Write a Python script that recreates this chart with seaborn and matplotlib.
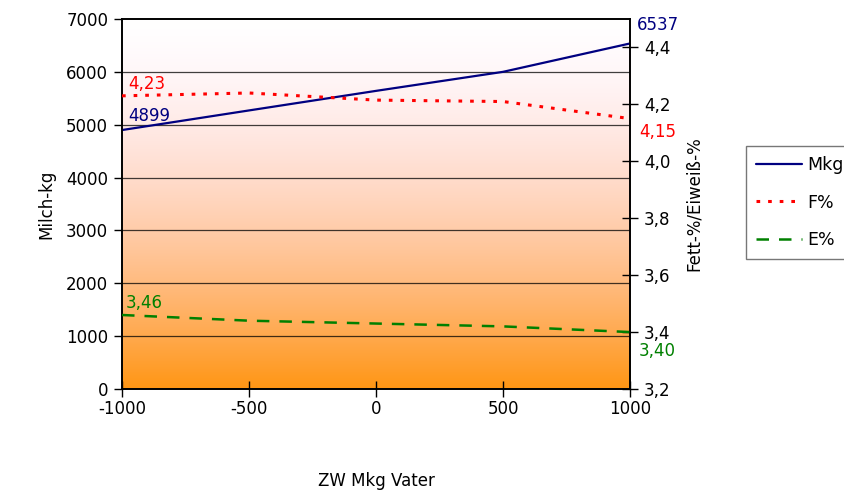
import numpy as np
import pandas as pd
import matplotlib
matplotlib.use("Agg")
import matplotlib.pyplot as plt
import seaborn as sns
from matplotlib.lines import Line2D

# Breeding value of the sire (ZW Mkg Vater) and daughter performance
zw_vater = [-1000, -500, 0, 500, 1000]
mkg = [4899, 5270, 5640, 6000, 6537]
fett = [4.23, 4.24, 4.215, 4.21, 4.15]
eiweiss = [3.46, 3.44, 3.43, 3.42, 3.40]

x_ticks = [-1000, -500, 0, 500, 1000]
left_ticks = [0, 1000, 2000, 3000, 4000, 5000, 6000, 7000]
right_ticks = [3.2, 3.4, 3.6, 3.8, 4.0, 4.2, 4.4]

df = pd.DataFrame({"zw": zw_vater, "Mkg": mkg, "F%": fett, "E%": eiweiss})

sns.set_theme(style="white")
plt.rcParams["font.family"] = ["DejaVu Sans"]
plt.rcParams["font.size"] = 11
plt.rcParams["text.color"] = "black"
plt.rcParams["axes.labelcolor"] = "black"
plt.rcParams["xtick.color"] = "black"
plt.rcParams["ytick.color"] = "black"

def de(v, nd):
    return f"{v:.{nd}f}".replace(".", ",")

fig = plt.figure(figsize=(8.45, 4.97), dpi=100)
ax = fig.add_axes([0.1444, 0.2173, 0.7456 - 0.1444, 0.9618 - 0.2173])
ax2 = ax.twinx()

# Vertical white-to-orange background (white top, orange bottom)
t = np.linspace(0, 1, 400)
r = np.ones_like(t)
g = 1.0 - (105 / 255) * t ** 1.3
b = 1.0 - (235 / 255) * t ** 1.8
img = np.stack([r, g, b], axis=-1)[:, None, :]
ax.imshow(img, extent=[-1000, 1000, 0, 7000], aspect="auto", origin="upper", zorder=0)

ax.set_xlim(-1000, 1000)
ax.set_ylim(0, 7000)
ax2.set_ylim(3.2, 4.5)

for yv in left_ticks[1:-1]:
    ax.axhline(yv, color="black", lw=0.9, alpha=0.75, zorder=1)

navy = "#000080"
sns.lineplot(data=df, x="zw", y="Mkg", ax=ax, color=navy, lw=1.6, zorder=3, legend=False)
sns.lineplot(data=df, x="zw", y="F%", ax=ax2, color="#ff0000", lw=2.2,
             linestyle=(0, (1.2, 2.6)), zorder=3, legend=False)
sns.lineplot(data=df, x="zw", y="E%", ax=ax2, color="#008000", lw=1.8,
             linestyle=(0, (5, 4)), zorder=3, legend=False)

# Value labels at both ends
ax.text(zw_vater[0] + 25, mkg[0] + 90, str(mkg[0]), color=navy, fontsize=12, ha="left", va="bottom")
ax.text(zw_vater[-1] + 25, mkg[-1] + 180, str(mkg[-1]), color=navy, fontsize=12, ha="left", va="bottom")
ax2.text(zw_vater[0] + 25, fett[0] + 0.01, de(fett[0], 2), color="#ff0000", fontsize=12, ha="left", va="bottom")
ax2.text(zw_vater[-1] + 35, fett[-1] - 0.015, de(fett[-1], 2), color="#ff0000", fontsize=12, ha="left", va="top")
ax2.text(zw_vater[0] + 15, eiweiss[0] + 0.012, de(eiweiss[0], 2), color="#008000", fontsize=12, ha="left", va="bottom")
ax2.text(zw_vater[-1] + 35, eiweiss[-1] - 0.036, de(eiweiss[-1], 2), color="#008000", fontsize=12, ha="left", va="top")

ax.set_xticks(x_ticks)
ax.set_xticklabels([str(v) for v in x_ticks])
ax.set_yticks(left_ticks)
ax.set_yticklabels([str(v) for v in left_ticks])
ax2.set_yticks(right_ticks)
ax2.set_yticklabels([de(v, 1) for v in right_ticks])

ax.tick_params(axis="x", direction="inout", length=12, width=1, colors="black",
               labelsize=12, pad=2, bottom=True)
ax.tick_params(axis="y", direction="out", length=6, width=1, labelsize=12, pad=4, left=True)
ax2.tick_params(axis="y", direction="inout", length=12, width=1, labelsize=12, pad=4, right=True)

ax.set_xlabel("ZW Mkg Vater", fontsize=12, labelpad=39)
ax.set_ylabel("Milch-kg", fontsize=12, labelpad=8)
ax2.set_ylabel("Fett-%/Eiweiß-%", fontsize=12, labelpad=10)

for a in (ax, ax2):
    for s in a.spines.values():
        s.set_color("black")
        s.set_linewidth(1.2)
    a.grid(False)

handles = [
    Line2D([], [], color=navy, lw=1.6),
    Line2D([], [], color="#ff0000", lw=2.2, linestyle=(0, (1.2, 2.6))),
    Line2D([], [], color="#008000", lw=1.8, linestyle=(0, (5, 4))),
]
leg = fig.legend(handles, ["Mkg", "F%", "E%"], loc="upper left",
                 bbox_to_anchor=(746 / 845, 1 - 146 / 497), frameon=True,
                 fancybox=False, fontsize=12.5, handlelength=2.6, handletextpad=0.3,
                 labelspacing=1.1, borderpad=0.6, borderaxespad=0)
leg.get_frame().set_edgecolor("#555555")
leg.get_frame().set_linewidth(1.0)
for txt in leg.get_texts():
    txt.set_color("black")

fig.savefig("out.png", dpi=100)
